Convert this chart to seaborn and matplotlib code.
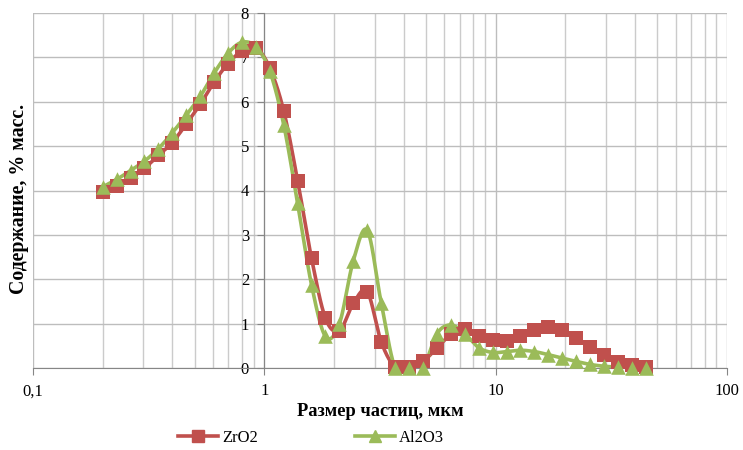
import numpy as np
import pandas as pd
import matplotlib
matplotlib.use("Agg")
import matplotlib.pyplot as plt
from matplotlib.lines import Line2D
from matplotlib.ticker import FixedLocator, LogLocator, NullFormatter
import seaborn as sns

# Particle size bins, um
sizes = [0.2, 0.23, 0.264, 0.303, 0.348, 0.4, 0.46, 0.528, 0.606, 0.696,
         0.8, 0.919, 1.056, 1.213, 1.393, 1.6, 1.838, 2.111, 2.425, 2.786,
         3.2, 3.676, 4.222, 4.85, 5.572, 6.4, 7.352, 8.445, 9.701, 11.143,
         12.8, 14.703, 16.89, 19.401, 22.286, 25.6, 29.407, 33.779, 38.802, 44.572]

# Mass content, %
zro2 = [3.96, 4.10, 4.28, 4.50, 4.79, 5.08, 5.50, 5.94, 6.44, 6.86,
        7.14, 7.22, 6.76, 5.79, 4.22, 2.47, 1.12, 0.84, 1.46, 1.72,
        0.59, 0.02, 0.02, 0.15, 0.45, 0.76, 0.89, 0.72, 0.62, 0.60,
        0.72, 0.85, 0.92, 0.86, 0.68, 0.47, 0.29, 0.14, 0.06, 0.02]

al2o3 = [4.08, 4.25, 4.45, 4.66, 4.94, 5.30, 5.70, 6.12, 6.64, 7.09,
         7.34, 7.24, 6.69, 5.48, 3.71, 1.87, 0.71, 1.00, 2.42, 3.10,
         1.47, 0.00, 0.00, 0.00, 0.77, 0.97, 0.77, 0.46, 0.35, 0.37,
         0.40, 0.37, 0.30, 0.22, 0.15, 0.08, 0.04, 0.02, 0.01, 0.01]

series_names = ["ZrO2", "Al2O3"]
x_ticks = [0.1, 1, 10, 100]
x_tick_labels = ["0,1", "1", "10", "100"]
y_ticks = [0, 1, 2, 3, 4, 5, 6, 7, 8]

RED = "#C0504D"
GREEN = "#9BBB59"


def smooth_curve(x, y, n=24):
    """Cubic Bezier smoothing through every point (in log-x space)."""
    lx = np.log10(np.asarray(x, float))
    yy = np.asarray(y, float)
    pts = np.column_stack([lx, yy])
    out = []
    t = np.linspace(0, 1, n, endpoint=False)[:, None]
    for i in range(len(pts) - 1):
        p0 = pts[i - 1] if i > 0 else pts[i]
        p1 = pts[i]
        p2 = pts[i + 1]
        p3 = pts[i + 2] if i + 2 < len(pts) else pts[i + 1]
        b1 = p1 + (p2 - p0) / 6.0
        b2 = p2 - (p3 - p1) / 6.0
        seg = ((1 - t) ** 3) * p1 + 3 * ((1 - t) ** 2) * t * b1 \
            + 3 * (1 - t) * t ** 2 * b2 + t ** 3 * p2
        out.append(seg)
    out.append(pts[-1][None, :])
    arr = np.vstack(out)
    return 10 ** arr[:, 0], arr[:, 1]


plt.rcParams["font.family"] = ["Liberation Serif", "DejaVu Serif"]

fig = plt.figure(figsize=(7.43, 4.5), dpi=100)
ax = fig.add_axes([33 / 743, 1 - 368 / 450, (727 - 33) / 743, (368 - 13) / 450])

ax.set_xscale("log")
ax.set_xlim(0.1, 100)
ax.set_ylim(0, 8)

# grid
ax.xaxis.set_major_locator(FixedLocator(x_ticks))
ax.xaxis.set_minor_locator(LogLocator(base=10, subs=np.arange(2, 10)))
ax.xaxis.set_minor_formatter(NullFormatter())
ax.set_xticklabels(x_tick_labels)
ax.yaxis.set_major_locator(FixedLocator(y_ticks))
ax.grid(which="major", axis="both", color="#BDBDBD", lw=1.0, zorder=0)
ax.grid(which="minor", axis="x", color="#CBCBCB", lw=1.0, zorder=0)
ax.set_axisbelow(True)

for name, vals, color, marker, ms in [
    (series_names[0], zro2, RED, "s", 9.5),
    (series_names[1], al2o3, GREEN, "^", 10.5),
]:
    sx, sy = smooth_curve(sizes, vals)
    curve = pd.DataFrame({"x": sx, "y": sy})
    sns.lineplot(data=curve, x="x", y="y", ax=ax, color=color, lw=2.6,
                 sort=False, estimator=None, zorder=3, legend=False)
    pts = pd.DataFrame({"x": sizes, "y": vals})
    sns.scatterplot(data=pts, x="x", y="y", ax=ax, color=color, marker=marker,
                    s=ms ** 2, edgecolor=color, linewidth=0, zorder=4,
                    legend=False, clip_on=False)

# spines: value axis crosses at x = 1
for side in ["top", "right"]:
    ax.spines[side].set_visible(False)
ax.spines["left"].set_position(("data", 1))
ax.spines["left"].set_color("#868686")
ax.spines["bottom"].set_color("#868686")
ax.spines["left"].set_zorder(2)
ax.tick_params(axis="y", which="major", length=5, color="#868686",
               labelsize=12, pad=6)
ax.tick_params(axis="x", which="major", length=5, color="#868686",
               labelsize=12, pad=6)
ax.tick_params(axis="x", which="minor", length=0)

ax.set_xlabel("")
ax.set_ylabel("")
fig.text(380 / 743, 1 - 412 / 450, "Размер частиц, мкм", ha="center",
         va="center", fontsize=13.2, fontweight="bold")
fig.text(19 / 743, 1 - 199 / 450, "Содержание, % масс.", ha="center",
         va="center", rotation=90, fontsize=14.3, fontweight="bold")

handles = [
    Line2D([], [], color=RED, lw=2.6, marker="s", markersize=8),
    Line2D([], [], color=GREEN, lw=2.6, marker="^", markersize=8),
]
fig.legend(handles, series_names, loc="center",
           bbox_to_anchor=(311 / 743, 1 - 438 / 450), ncol=2, frameon=False,
           fontsize=12, handlelength=2.4, handletextpad=0.25,
           columnspacing=5.8, borderpad=0, borderaxespad=0)

fig.savefig("out.png", dpi=100)
